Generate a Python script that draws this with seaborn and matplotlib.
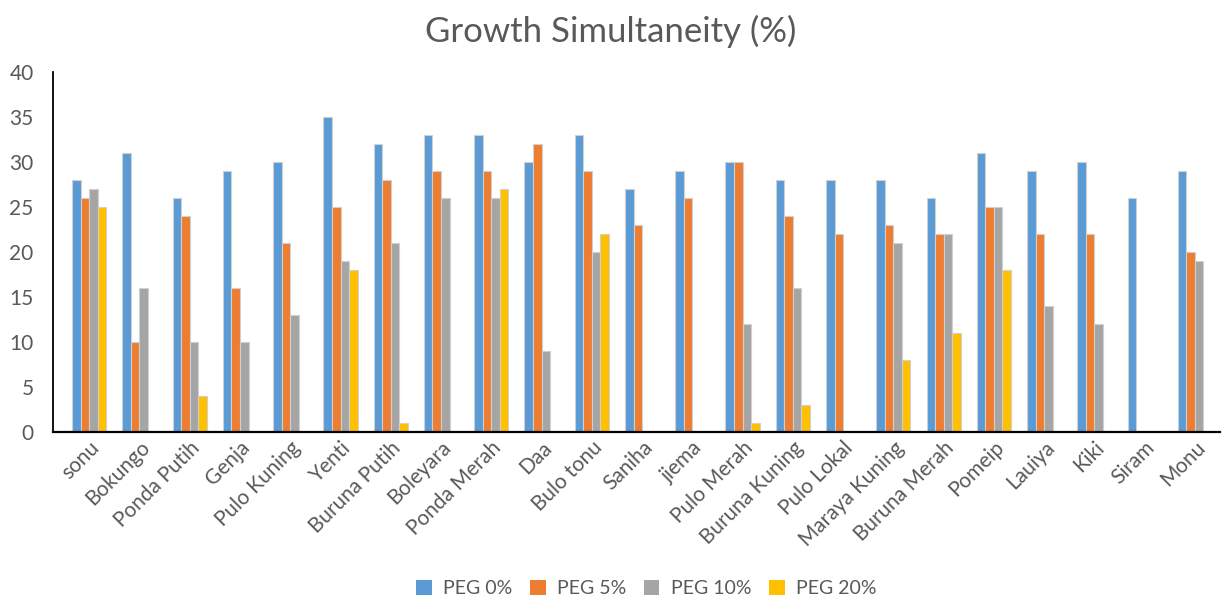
import matplotlib
matplotlib.use("Agg")
import matplotlib.pyplot as plt
import seaborn as sns
import pandas as pd
from matplotlib.patches import Patch

categories = ["sonu", "Bokungo", "Ponda Putih", "Genja", "Pulo Kuning", "Yenti",
              "Buruna Putih", "Boleyara", "Ponda Merah", "Daa", "Bulo tonu", "Saniha",
              "jiema", "Pulo Merah", "Buruna Kuning", "Pulo Lokal", "Maraya Kuning",
              "Buruna Merah", "Pomeip", "Lauiya", "Kiki", "Siram", "Monu"]
peg0 = [28, 31, 26, 29, 30, 35, 32, 33, 33, 30, 33, 27, 29, 30, 28, 28, 28, 26, 31, 29, 30, 26, 29]
peg5 = [26, 10, 24, 16, 21, 25, 28, 29, 29, 32, 29, 23, 26, 30, 24, 22, 23, 22, 25, 22, 22, 0, 20]
peg10 = [27, 16, 10, 10, 13, 19, 21, 26, 26, 9, 20, 0, 0, 12, 16, 0, 21, 22, 25, 14, 12, 0, 19]
peg20 = [25, 0, 4, 0, 0, 18, 1, 0, 27, 0, 22, 0, 0, 1, 3, 0, 8, 11, 18, 0, 0, 0, 0]
series_names = ["PEG 0%", "PEG 5%", "PEG 10%", "PEG 20%"]
colors = ["#5B9BD5", "#ED7D31", "#A5A5A5", "#FFC000"]

rows = []
for name, vals in zip(series_names, [peg0, peg5, peg10, peg20]):
    for c, v in zip(categories, vals):
        rows.append({"Category": c, "Series": name, "Value": v})
df = pd.DataFrame(rows)

sns.set_theme(style="white")
plt.rcParams["font.family"] = ["Lato", "DejaVu Sans"]

fig = plt.figure(figsize=(12.22, 6.03), dpi=100)
ax = fig.add_axes([0.0434, 0.2836, 0.955, 0.597])

sns.barplot(data=df, x="Category", y="Value", hue="Series", order=categories,
            hue_order=series_names, palette=colors, saturation=1, width=0.68,
            edgecolor="#D0D0D0", linewidth=0.8, ax=ax, legend=False, errorbar=None)

ax.set_ylim(0, 40)
ax.set_yticks(range(0, 41, 5))
ax.set_xlim(-0.72, 22.5)
ax.set_xlabel("")
ax.set_ylabel("")
ax.tick_params(axis="y", labelsize=15, labelcolor="#595959", length=0, pad=14)
ax.tick_params(axis="x", labelsize=15, labelcolor="#595959", length=0, pad=4)
plt.setp(ax.get_xticklabels(), rotation=45, ha="right", rotation_mode="anchor")
for side in ["top", "right"]:
    ax.spines[side].set_visible(False)
ax.spines["left"].set_color("black")
ax.spines["left"].set_linewidth(1.3)
ax.spines["bottom"].set_color("black")
ax.spines["bottom"].set_linewidth(1.6)

fig.suptitle("Growth Simultaneity (%)", y=0.975, fontsize=25, color="#595959")

handles = [Patch(facecolor=c, edgecolor="none") for c in colors]
fig.legend(handles, series_names, loc="center", bbox_to_anchor=(0.529, 0.024),
           ncol=4, frameon=False, fontsize=14, handlelength=0.8, handleheight=0.8,
           handletextpad=0.6, columnspacing=0.9, labelcolor="#595959")

fig.savefig("out.png", dpi=100)
